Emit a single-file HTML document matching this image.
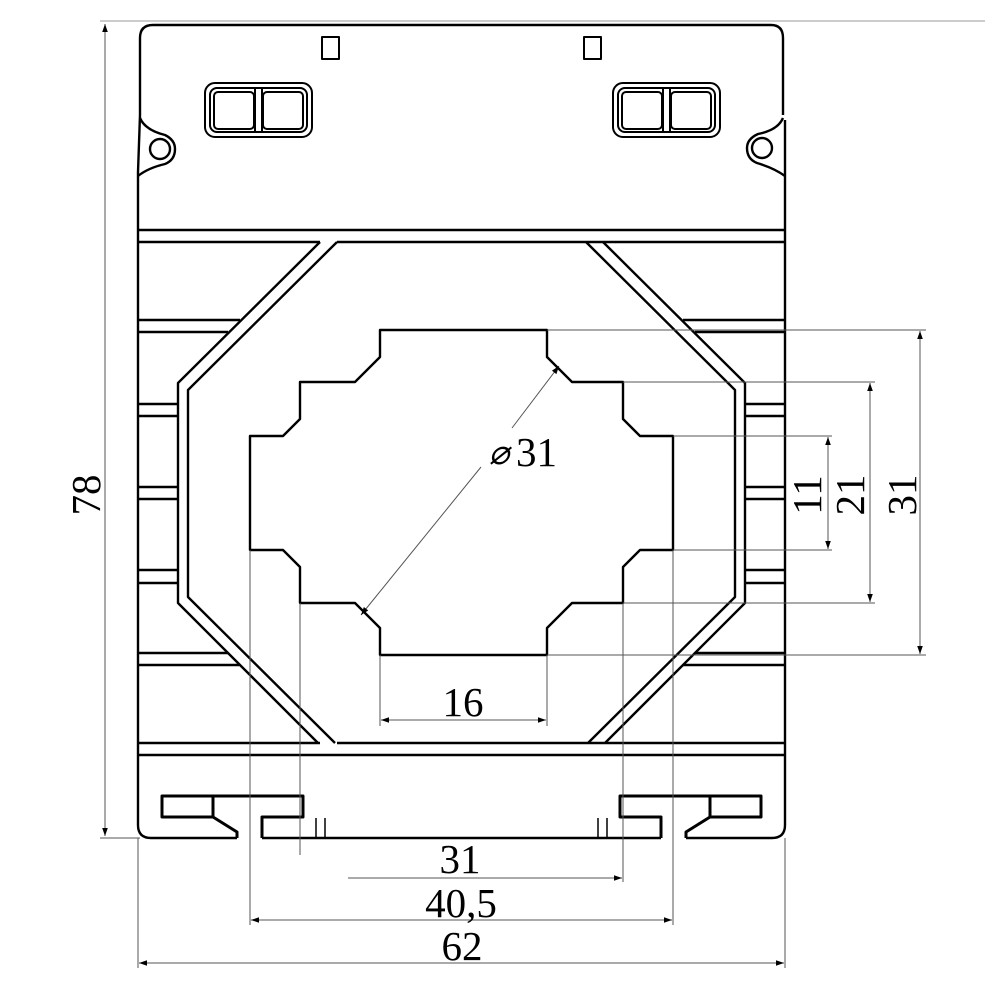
<!DOCTYPE html>
<html><head><meta charset="utf-8"><style>
html,body{margin:0;padding:0;background:#fff;}
svg{display:block;}
text{font-family:"Liberation Serif",serif;fill:#000;}
</style></head><body>
<svg width="1000" height="1000" viewBox="0 0 1000 1000" xmlns="http://www.w3.org/2000/svg">
<defs>
<marker id="a" viewBox="0 0 10 10" refX="10" refY="5" markerWidth="10" markerHeight="8" markerUnits="userSpaceOnUse" orient="auto-start-reverse"><path d="M0,1.5 L10,5 L0,8.5 Z" fill="#000"/></marker>
</defs>
<line x1="100" y1="21" x2="985" y2="21" stroke="#bbb" stroke-width="1.5"/>
<g fill="none" stroke="#000" stroke-width="2.4" stroke-linejoin="round">
<path d="M140,115 L140,38 Q140,25 153,25 L771,25 Q783,25 783,38 L783,115 M785,120 L785,825 Q785,838 772,838 L686,838 M661,838 L262,838 M237,838 L151,838 Q138,838 138,825 L138,172 L140,115"/>
<circle cx="160" cy="149" r="10"/>
<path d="M140,118 Q145,130 165,135 Q175,140 175,149 Q175,160 165,164 Q148,168 138,176"/>
<circle cx="762" cy="148" r="10"/>
<path d="M783,118 Q778,130 758,134 Q747,139 747,148 Q747,159 757,163 Q774,168 785,176"/>
<rect x="322" y="37" width="17" height="22" stroke-width="2"/>
<rect x="584" y="37" width="17" height="22" stroke-width="2"/>
<g stroke-width="2">
<rect x="205" y="83" width="107" height="54" rx="10"/>
<rect x="210" y="88" width="97" height="44" rx="7"/>
<rect x="214" y="92" width="40" height="37" rx="4"/>
<rect x="263" y="92" width="40" height="37" rx="4"/>
<line x1="255" y1="88" x2="255" y2="132"/><line x1="262" y1="88" x2="262" y2="132"/>
<rect x="613" y="83" width="107" height="54" rx="10"/>
<rect x="618" y="88" width="97" height="44" rx="7"/>
<rect x="622" y="92" width="40" height="37" rx="4"/>
<rect x="671" y="92" width="40" height="37" rx="4"/>
<line x1="663" y1="88" x2="663" y2="132"/><line x1="670" y1="88" x2="670" y2="132"/>
</g>
<line x1="138" y1="230" x2="785" y2="230"/>
<line x1="138" y1="242" x2="320" y2="242"/>
<line x1="337" y1="242" x2="785" y2="242"/>
<line x1="138" y1="743" x2="320" y2="743"/>
<line x1="337" y1="743" x2="785" y2="743"/>
<line x1="138" y1="755" x2="785" y2="755"/>
<path d="M320,242 L178,383 L178,603 L318,743"/>
<path d="M337,242 L188,390 L188,597 L335,743"/>
<path d="M603,242 L745,383 L745,603 L605,743"/>
<path d="M586,242 L735,390 L735,597 L588,743"/>
<line x1="138" y1="320" x2="240" y2="320"/><line x1="138" y1="332" x2="228" y2="332"/>
<line x1="138" y1="653" x2="228" y2="653"/><line x1="138" y1="665" x2="240" y2="665"/>
<line x1="683" y1="320" x2="785" y2="320"/><line x1="695" y1="332" x2="785" y2="332"/>
<line x1="695" y1="653" x2="785" y2="653"/><line x1="683" y1="665" x2="785" y2="665"/>
<line x1="138" y1="404" x2="178" y2="404"/><line x1="138" y1="416" x2="178" y2="416"/>
<line x1="138" y1="487" x2="178" y2="487"/><line x1="138" y1="499" x2="178" y2="499"/>
<line x1="138" y1="570" x2="178" y2="570"/><line x1="138" y1="583" x2="178" y2="583"/>
<line x1="745" y1="404" x2="785" y2="404"/><line x1="745" y1="416" x2="785" y2="416"/>
<line x1="745" y1="487" x2="785" y2="487"/><line x1="745" y1="499" x2="785" y2="499"/>
<line x1="745" y1="570" x2="785" y2="570"/><line x1="745" y1="583" x2="785" y2="583"/>
<path d="M380,330 L547,330 L547,357 L572,382 L623,382 L623,419 L640,436 L673,436 L673,550 L640,550 L623,567 L623,603 L572,603 L547,628 L547,655 L380,655 L380,628 L355,603 L300,603 L300,567 L283,550 L250,550 L250,436 L283,436 L300,419 L300,382 L355,382 L380,357 Z"/>
<path d="M213,817 L162,817 L162,796 L303,796 L303,817 L262,817 L262,838 M213,796 L213,817 L237,832 L237,838" stroke-width="3"/>
<path d="M710,817 L761,817 L761,796 L620,796 L620,817 L661,817 L661,838 M710,796 L710,817 L686,832 L686,838" stroke-width="3"/>
<g stroke-width="1.5"><line x1="316" y1="818" x2="316" y2="838"/><line x1="325" y1="818" x2="325" y2="838"/>
<line x1="598" y1="818" x2="598" y2="838"/><line x1="607" y1="818" x2="607" y2="838"/></g>
</g>
<g stroke="#555" stroke-width="1" fill="none">
<line x1="100" y1="838" x2="140" y2="838"/>
<line x1="105" y1="24" x2="105" y2="836" marker-start="url(#a)" marker-end="url(#a)"/>
<line x1="547" y1="330" x2="926" y2="330"/><line x1="547" y1="655" x2="926" y2="655"/>
<line x1="920" y1="331" x2="920" y2="654" marker-start="url(#a)" marker-end="url(#a)"/>
<line x1="623" y1="382" x2="875" y2="382"/><line x1="623" y1="603" x2="875" y2="603"/>
<line x1="870" y1="383" x2="870" y2="602" marker-start="url(#a)" marker-end="url(#a)"/>
<line x1="673" y1="436" x2="832" y2="436"/><line x1="673" y1="550" x2="832" y2="550"/>
<line x1="828" y1="437" x2="828" y2="549" marker-start="url(#a)" marker-end="url(#a)"/>
<line x1="380" y1="655" x2="380" y2="726"/><line x1="547" y1="655" x2="547" y2="726"/>
<line x1="381" y1="720" x2="546" y2="720" marker-start="url(#a)" marker-end="url(#a)"/>
<line x1="300" y1="603" x2="300" y2="855"/><line x1="623" y1="603" x2="623" y2="882"/>
<line x1="348" y1="878" x2="622" y2="878" marker-end="url(#a)"/>
<line x1="250" y1="550" x2="250" y2="925"/><line x1="673" y1="550" x2="673" y2="925"/>
<line x1="251" y1="920" x2="672" y2="920" marker-start="url(#a)" marker-end="url(#a)"/>
<line x1="138" y1="838" x2="138" y2="968"/><line x1="785" y1="838" x2="785" y2="968"/>
<line x1="139" y1="963" x2="784" y2="963" marker-start="url(#a)" marker-end="url(#a)"/>
<line x1="361" y1="615" x2="481" y2="467" marker-start="url(#a)"/>
<line x1="512" y1="428" x2="559" y2="366" marker-end="url(#a)"/>
</g>
<g font-size="41">
<text x="0" y="0" text-anchor="middle" transform="translate(100,495) rotate(-90)">78</text>
<text x="0" y="0" text-anchor="middle" transform="translate(821,495) rotate(-90)">11</text>
<text x="0" y="0" text-anchor="middle" transform="translate(864,495) rotate(-90)">21</text>
<text x="0" y="0" text-anchor="middle" transform="translate(916,495) rotate(-90)">31</text>
<text x="463" y="716" text-anchor="middle">16</text>
<text x="460" y="873" text-anchor="middle">31</text>
<text x="461" y="917" text-anchor="middle">40,5</text>
<text x="462" y="960" text-anchor="middle">62</text>
<text x="516" y="466">31</text>
<text x="499" y="464" font-size="34" fill="#555" text-anchor="middle" font-style="italic">⌀</text>
</g>
</svg>
</body></html>
